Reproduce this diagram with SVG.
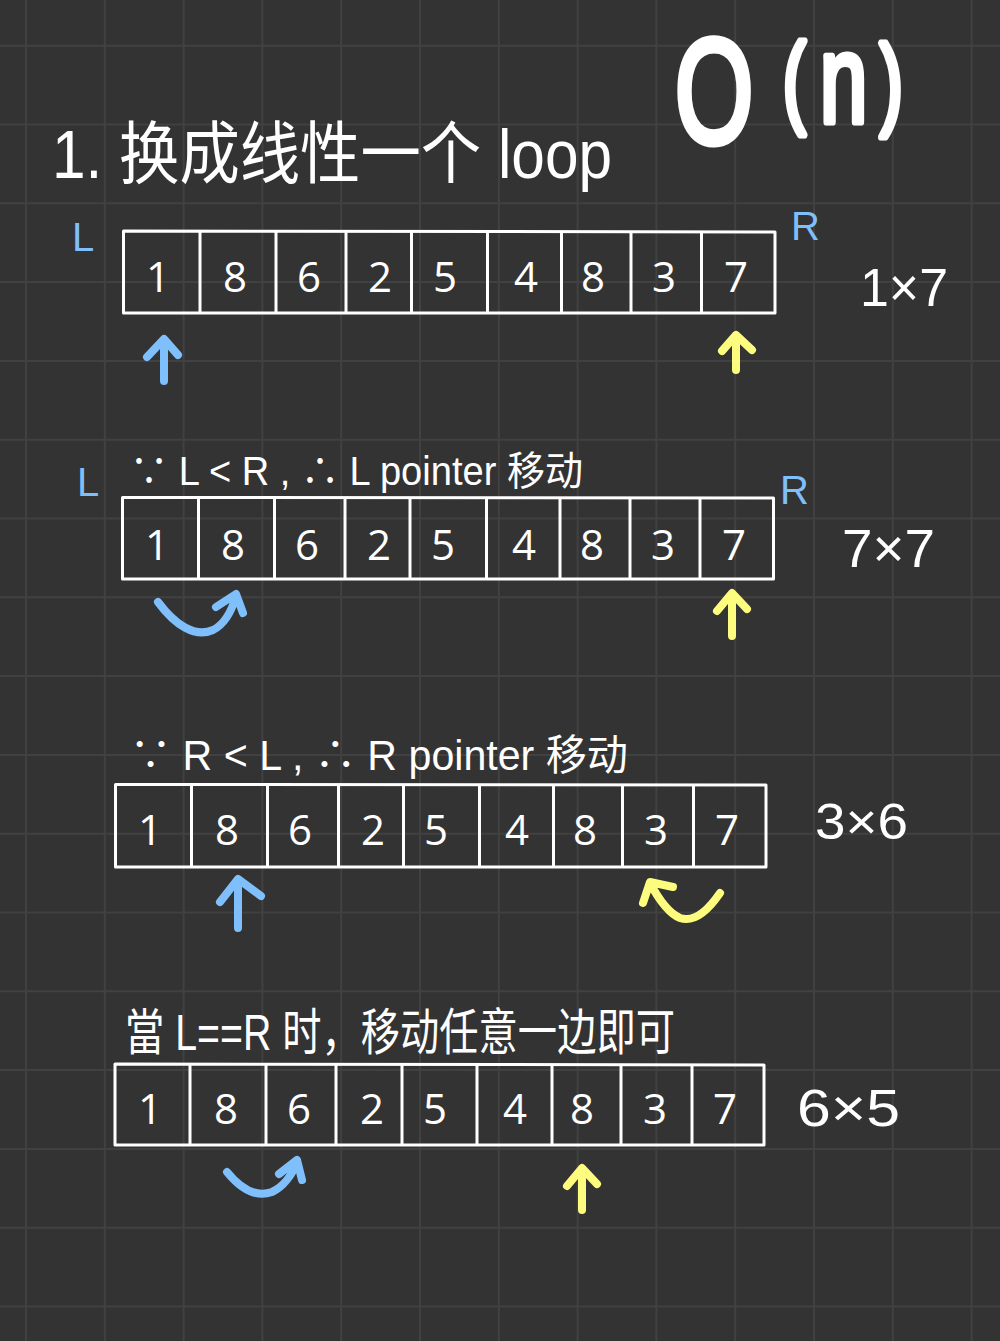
<svg xmlns="http://www.w3.org/2000/svg" width="1000" height="1341" viewBox="0 0 1000 1341">
<style>
.bg{fill:#333333}
.grid{stroke:#414141;stroke-width:2;fill:none}
.frame{fill:none;stroke:#ffffff;stroke-width:3;stroke-linejoin:round}
.div{stroke:#ffffff;stroke-width:3}
.num{font-family:"Open Sans","Liberation Sans",sans-serif;font-size:42px;fill:#ffffff;text-anchor:middle}
.hand{font-family:"Liberation Sans","Noto Sans CJK SC",sans-serif;fill:#ffffff}
.big{font-family:"Liberation Sans",sans-serif;fill:#ffffff;stroke:#ffffff;stroke-width:7;stroke-linejoin:round}
.lbl{font-family:"Liberation Sans",sans-serif;font-size:40px;fill:#7fbffc}
.blue{fill:none;stroke:#7fbffc;stroke-width:8;stroke-linecap:round;stroke-linejoin:round}
.yel{fill:none;stroke:#fdfc7e;stroke-width:8;stroke-linecap:round;stroke-linejoin:round}
</style>
<rect class="bg" x="0" y="0" width="1000" height="1341"/>
<path class="grid" d="M26,0V1341M104.8,0V1341M183.6,0V1341M262.4,0V1341M341.2,0V1341M420,0V1341M498.8,0V1341M577.6,0V1341M656.4,0V1341M735.2,0V1341M814,0V1341M892.8,0V1341M971.6,0V1341M0,45.7H1000M0,124.5H1000M0,203.3H1000M0,282.1H1000M0,360.9H1000M0,439.7H1000M0,518.5H1000M0,597.3H1000M0,676.1H1000M0,754.9H1000M0,833.7H1000M0,912.5H1000M0,991.3H1000M0,1070.1H1000M0,1148.9H1000M0,1227.7H1000M0,1306.5H1000"/>

<g id="title">
<text class="hand" x="52" y="178" font-size="68" textLength="560" lengthAdjust="spacingAndGlyphs">1. 换成线性一个 loop</text>
</g>
<g id="complexity">
<text class="big" transform="scale(0.68,1)"><tspan x="992.6" y="143" font-size="148">O</tspan><tspan x="1151.5" y="114" font-size="100">(</tspan><tspan x="1206" y="122" font-size="125">n</tspan><tspan x="1294" y="116" font-size="100">)</tspan></text>
</g>

<!-- Row 1 -->
<g id="array1">
<path class="frame" d="M123.5,231 L775,232 L775,313 L123.5,313 Z"/>
<path class="div" d="M200,232V313M276,232V313M346,232V313M411.5,232V313M487.5,232V313M561.5,232V313M631,232V313M701.5,232V313"/>
<text class="num" y="292"><tspan x="158">1</tspan><tspan x="235">8</tspan><tspan x="309">6</tspan><tspan x="380">2</tspan><tspan x="445">5</tspan><tspan x="526">4</tspan><tspan x="593">8</tspan><tspan x="664">3</tspan><tspan x="736">7</tspan></text>
</g>
<g id="label-L1"><text class="lbl" x="72" y="251">L</text></g>
<g id="label-R1"><text class="lbl" x="791" y="240">R</text></g>
<g id="product1"><text class="hand" x="860" y="306" font-size="54" textLength="88" lengthAdjust="spacingAndGlyphs">1×7</text></g>

<!-- Row 2 -->
<g id="caption2"><text class="hand" x="130" y="485" font-size="40" textLength="453" lengthAdjust="spacingAndGlyphs">∵ L &lt; R , ∴ L pointer 移动</text></g>
<g id="array2">
<path class="frame" d="M122.5,497.5 L773.5,498 L773.5,579 L122.5,579 Z"/>
<path class="div" d="M198.5,498V579M274.5,498V579M345,498V579M410,498V579M486.5,498V579M560,498V579M630,498V579M700,498V579"/>
<text class="num" y="560"><tspan x="157">1</tspan><tspan x="233">8</tspan><tspan x="307">6</tspan><tspan x="379">2</tspan><tspan x="443">5</tspan><tspan x="524">4</tspan><tspan x="592">8</tspan><tspan x="663">3</tspan><tspan x="734">7</tspan></text>
</g>
<g id="label-L2"><text class="lbl" x="77" y="496">L</text></g>
<g id="label-R2"><text class="lbl" x="780" y="504">R</text></g>
<g id="product2"><text class="hand" x="842" y="567" font-size="54" textLength="93" lengthAdjust="spacingAndGlyphs">7×7</text></g>

<!-- Row 3 -->
<g id="caption3"><text class="hand" x="130" y="770" font-size="42" textLength="498" lengthAdjust="spacingAndGlyphs">∵ R &lt; L , ∴ R pointer 移动</text></g>
<g id="array3">
<path class="frame" d="M115.5,784.5 L766,785 L766,867 L115.5,867 Z"/>
<path class="div" d="M191.5,785V867M267.5,785V867M338.5,785V867M403.5,785V867M479.5,785V867M553.5,785V867M622.5,785V867M693.5,785V867"/>
<text class="num" y="845"><tspan x="150">1</tspan><tspan x="227">8</tspan><tspan x="300">6</tspan><tspan x="373">2</tspan><tspan x="436">5</tspan><tspan x="517">4</tspan><tspan x="585">8</tspan><tspan x="656">3</tspan><tspan x="727">7</tspan></text>
</g>
<g id="product3"><text class="hand" x="815" y="839" font-size="50" textLength="93" lengthAdjust="spacingAndGlyphs">3×6</text></g>

<!-- Row 4 -->
<g id="caption4"><text class="hand" x="125" y="1050" font-size="50" textLength="550" lengthAdjust="spacingAndGlyphs">當 L==R 时，移动任意一边即可</text></g>
<g id="array4">
<path class="frame" d="M115,1064 L764,1065 L764,1145 L115,1145 Z"/>
<path class="div" d="M190,1065V1145M266,1065V1145M336,1065V1145M402,1065V1145M477,1065V1145M552,1065V1145M621,1065V1145M692,1065V1145"/>
<text class="num" y="1124"><tspan x="150">1</tspan><tspan x="226">8</tspan><tspan x="299">6</tspan><tspan x="372">2</tspan><tspan x="435">5</tspan><tspan x="515">4</tspan><tspan x="582">8</tspan><tspan x="655">3</tspan><tspan x="725">7</tspan></text>
</g>
<g id="product4"><text class="hand" x="797" y="1126" font-size="52" textLength="103" lengthAdjust="spacingAndGlyphs">6×5</text></g>

<g id="connectors">
<path class="blue" d="M164,381V340M147,357L164,339L178,355"/>
<path class="yel" d="M736,370V336M722,351L736,335L752,350"/>
<path class="blue" d="M158,602C175,625 195,638 213,630C225,624 232,610 236,596M216,607L236,594L243,613"/>
<path class="yel" d="M732,636V595M717,611L732,593L747,609"/>
<path class="blue" d="M238,928V880M220,902L238,879L261,896"/>
<path class="yel" d="M720,893C705,915 692,922 680,918C668,913 658,898 650,883M643,903L650,882L673,887"/>
<path class="blue" d="M227,1172C240,1188 255,1198 272,1192C283,1187 292,1175 297,1162M279,1174L297,1160L302,1180"/>
<path class="yel" d="M582,1210V1170M567,1186L582,1168L597,1184"/>
</g>
</svg>
